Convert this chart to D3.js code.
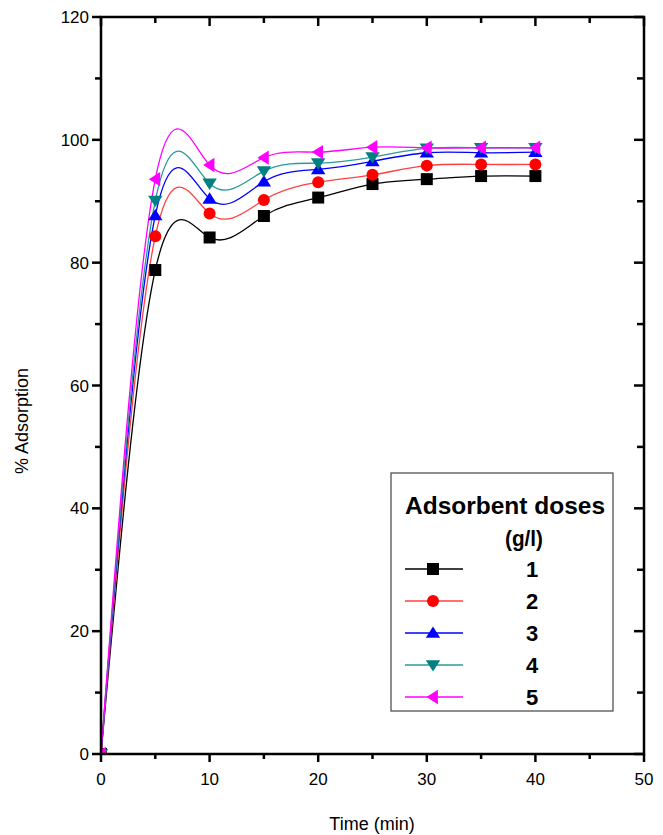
<!DOCTYPE html>
<html><head><meta charset="utf-8">
<script src="https://cdn.jsdelivr.net/npm/d3@7"></script>
<style>body{margin:0;background:#fff}svg{display:block}text{font-family:"Liberation Sans",Arial,sans-serif}</style>
</head><body><svg id="c" width="663" height="835"></svg>
<script>
const times = [0, 5, 10, 15, 20, 25, 30, 35, 40];
const dose1 = [0, 78.8, 84.1, 87.6, 90.6, 92.8, 93.6, 94.1, 94.1];
const dose2 = [0, 84.3, 88.0, 90.2, 93.1, 94.3, 95.8, 96.0, 96.0];
const dose3 = [0, 87.7, 90.4, 93.2, 95.2, 96.5, 97.9, 97.9, 98.0];
const dose4 = [0, 90.1, 92.9, 94.9, 96.2, 97.2, 98.6, 98.7, 98.7];
const dose5 = [0, 93.6, 95.9, 97.1, 98.0, 98.8, 98.7, 98.7, 98.7];
const seriesNames = ["1", "2", "3", "4", "5"];
const seriesColors = ["#000000", "#ff0000", "#0000ff", "#008080", "#ff00ff"];
const lineColors = ["#000000", "#ff4040", "#0000ff", "#2a9a9a", "#ff00ff"];
const seriesShapes = ["square", "circle", "triangleUp", "triangleDown", "triangleLeft"];
const xTicks = [0, 10, 20, 30, 40, 50];
const yTicks = [0, 20, 40, 60, 80, 100, 120];
const allSeries = [dose1, dose2, dose3, dose4, dose5];

const svg = d3.select("#c");
const L = 101, R = 644, T = 17, B = 754;
const x = d3.scaleLinear().domain([0, 50]).range([L, R]);
const y = d3.scaleLinear().domain([0, 120]).range([B, T]);

svg.append("defs").append("clipPath").attr("id", "clip")
  .append("rect").attr("x", L).attr("y", T).attr("width", R - L).attr("height", B - T);

function markerPath(shape, s) {
  const p = d3.path();
  if (shape === "square") { p.rect(-s/2, -s/2, s, s); }
  else if (shape === "circle") { p.arc(0, 0, s/2, 0, 2*Math.PI); }
  else if (shape === "triangleUp") { const h = s*0.9; p.moveTo(0, -h*0.6); p.lineTo(s*0.6, h*0.45); p.lineTo(-s*0.6, h*0.45); p.closePath(); }
  else if (shape === "triangleDown") { const h = s*0.9; p.moveTo(0, h*0.6); p.lineTo(s*0.6, -h*0.45); p.lineTo(-s*0.6, -h*0.45); p.closePath(); }
  else if (shape === "triangleLeft") { const h = s*0.9; p.moveTo(-h*0.6, 0); p.lineTo(h*0.45, -s*0.6); p.lineTo(h*0.45, s*0.6); p.closePath(); }
  return p.toString();
}

const g = svg.append("g").attr("clip-path", "url(#clip)");
const line = d3.line().x((d, i) => x(times[i])).y(d => y(d)).curve(d3.curveNatural);
allSeries.forEach((vals, k) => {
  g.append("path").attr("d", line(vals)).attr("fill", "none")
    .attr("stroke", lineColors[k]).attr("stroke-width", 1.3);
});
allSeries.forEach((vals, k) => {
  g.selectAll(null).data(vals).enter().append("path")
    .attr("transform", (d, i) => `translate(${x(times[i])},${y(d)})`)
    .attr("d", markerPath(seriesShapes[k], 12))
    .attr("fill", seriesColors[k]);
});

// frame
svg.append("rect").attr("x", L).attr("y", T).attr("width", R - L).attr("height", B - T)
  .attr("fill", "none").attr("stroke", "#000").attr("stroke-width", 2.5);

// ticks
const ax = svg.append("g").attr("stroke", "#000").attr("stroke-width", 2.5);
d3.range(0, 51, 5).forEach(v => {
  const major = v % 10 === 0;
  ax.append("line").attr("x1", x(v)).attr("x2", x(v)).attr("y1", B).attr("y2", B + (major ? 8 : 5));
  ax.append("line").attr("x1", x(v)).attr("x2", x(v)).attr("y1", T).attr("y2", T + (major ? 9 : 6));
});
d3.range(0, 121, 10).forEach(v => {
  const major = v % 20 === 0;
  ax.append("line").attr("y1", y(v)).attr("y2", y(v)).attr("x1", L).attr("x2", L - (major ? 9 : 6));
  ax.append("line").attr("y1", y(v)).attr("y2", y(v)).attr("x1", R).attr("x2", R - (major ? 10 : 7));
});

svg.selectAll(null).data(xTicks).enter().append("text")
  .attr("x", d => x(d)).attr("y", B + 31).attr("text-anchor", "middle")
  .attr("font-size", 17).text(d => d);
svg.selectAll(null).data(yTicks).enter().append("text")
  .attr("x", L - 12).attr("y", d => y(d) + 6).attr("text-anchor", "end")
  .attr("font-size", 17).text(d => d);

svg.append("text").attr("x", 372).attr("y", 830).attr("text-anchor", "middle")
  .attr("font-size", 18).text("Time (min)");
svg.append("text").attr("transform", "translate(28,421) rotate(-90)").attr("text-anchor", "middle")
  .attr("font-size", 18).text("% Adsorption");

// legend
const lg = svg.append("g");
lg.append("rect").attr("x", 391).attr("y", 473).attr("width", 222).attr("height", 238)
  .attr("fill", "#fff").attr("stroke", "#444").attr("stroke-width", 1.2);
lg.append("text").attr("x", 505).attr("y", 514).attr("text-anchor", "middle")
  .attr("font-size", 24).attr("font-weight", "bold")
  .attr("textLength", 200).attr("lengthAdjust", "spacingAndGlyphs").text("Adsorbent doses");
lg.append("text").attr("x", 524).attr("y", 546).attr("text-anchor", "middle")
  .attr("font-size", 22).attr("font-weight", "bold")
  .attr("textLength", 38).attr("lengthAdjust", "spacingAndGlyphs").text("(g/l)");
const rowY = [569, 601, 633, 665, 697];
seriesNames.forEach((n, k) => {
  lg.append("line").attr("x1", 405).attr("x2", 463).attr("y1", rowY[k]).attr("y2", rowY[k])
    .attr("stroke", lineColors[k]).attr("stroke-width", 1.3);
  lg.append("path").attr("transform", `translate(433,${rowY[k]})`)
    .attr("d", markerPath(seriesShapes[k], 12)).attr("fill", seriesColors[k]);
  lg.append("text").attr("x", 532).attr("y", rowY[k] + 8).attr("text-anchor", "middle")
    .attr("font-size", 22).attr("font-weight", "bold").text(n);
});
</script></body></html>
